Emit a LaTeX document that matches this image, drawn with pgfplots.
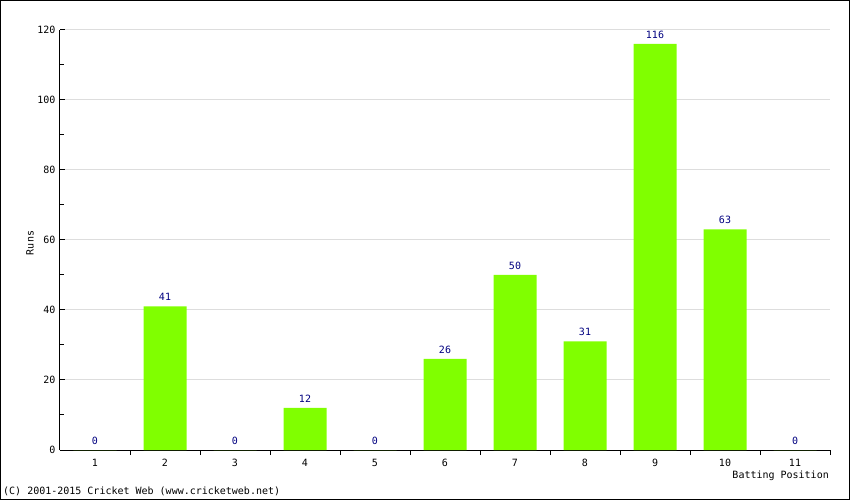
\documentclass[border=0pt]{standalone}
\usepackage{fontspec}
\setmainfont{DejaVu Sans Mono}
\usepackage{pgfplots}
\pgfplotsset{compat=1.18}
\definecolor{barg}{HTML}{80FF00}
\definecolor{lab}{HTML}{000080}
\definecolor{gridc}{HTML}{DDDDDD}
\begin{document}
\begin{tikzpicture}[font=\fontsize{10}{12}\selectfont]
\begin{axis}[at={(0,0)}, anchor=south west, scale only axis,
  width=770pt, height=420pt,
  xmin=0.5, xmax=11.5, ymin=0, ymax=120,
  axis x line=bottom, axis y line=left,
  axis line style={-, black, line width=1pt},
  /pgf/number format/assume math mode=true,
  ytick={0,20,...,120}, minor y tick num=1,
  ymajorgrids, major grid style={gridc, line width=1pt},
  tick align=inside, major tick length=5pt, minor tick length=4pt,
  tick style={black, line width=1pt},
  xtick={1.5,2.5,...,11.5}, xticklabels={},
  extra x ticks={1,2,...,11},
  extra x tick style={major tick length=0pt},
  xticklabel style={yshift=-6pt},
  yticklabel style={xshift=-1pt},
  ybar, bar width=43pt,
  nodes near coords,
  every node near coord/.append style={lab, anchor=south, yshift=2pt},
]
\addplot[fill=barg, draw=none] coordinates {
(1,0) (2,41) (3,0) (4,12) (5,0) (6,26) (7,50) (8,31) (9,116) (10,63) (11,0)};
\end{axis}
\node[anchor=east, inner sep=0] at (769pt,-26pt) {Batting Position};
\node[rotate=90, inner sep=0] at (-30pt,207pt) {Runs};
\node[anchor=west, inner sep=0] at (-57pt,-41pt) {(C) 2001-2015 Cricket Web (www.cricketweb.net)};
\draw[line width=1pt] (-59.5pt,-49.5pt) rectangle (789.5pt,449.5pt);
\end{tikzpicture}
\end{document}
